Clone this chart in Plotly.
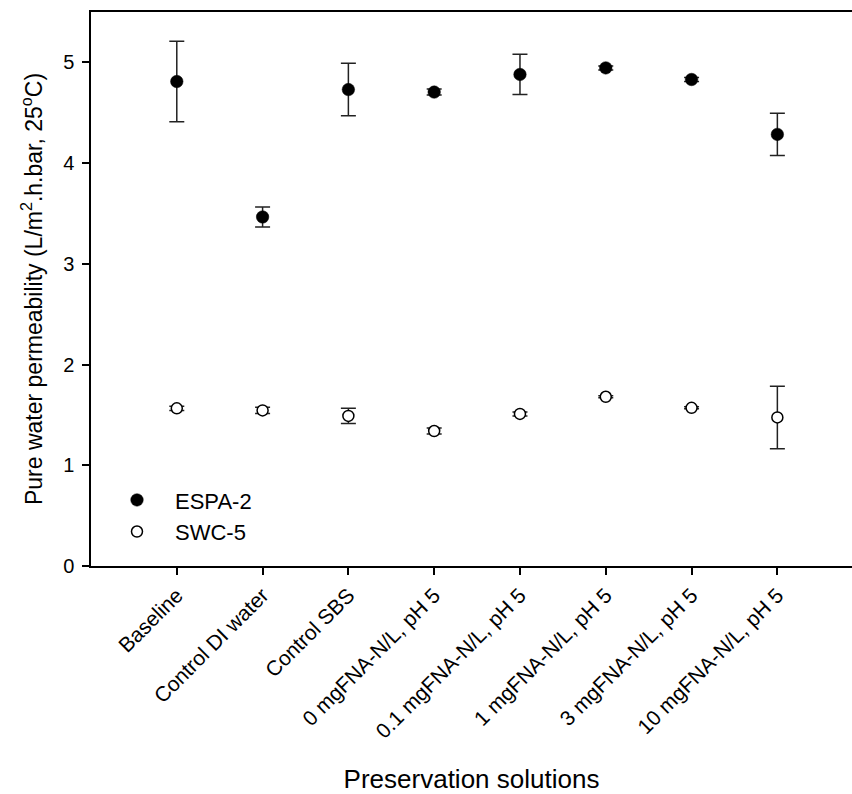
import plotly.graph_objects as go

categories = ["Baseline", "Control DI water", "Control SBS", "0 mgFNA-N/L, pH 5",
              "0.1 mgFNA-N/L, pH 5", "1 mgFNA-N/L, pH 5", "3 mgFNA-N/L, pH 5",
              "10 mgFNA-N/L, pH 5"]
espa_mean = [4.81, 3.465, 4.73, 4.705, 4.88, 4.945, 4.83, 4.285]
espa_err = [0.40, 0.10, 0.26, 0.03, 0.20, 0.02, 0.02, 0.21]
swc_mean = [1.565, 1.545, 1.49, 1.34, 1.51, 1.68, 1.57, 1.475]
swc_err = [0.02, 0.03, 0.075, 0.03, 0.02, 0.01, 0.01, 0.31]

FONT = "Liberation Sans, Arial, sans-serif"

fig = go.Figure()
fig.add_trace(go.Scatter(
    x=categories, y=espa_mean, mode="markers", name="ESPA-2",
    marker=dict(symbol="circle", size=12.5, color="black", line=dict(color="black", width=0.5)),
    error_y=dict(type="data", array=espa_err, visible=True, color="#222222", thickness=1.5, width=7.5),
))
fig.add_trace(go.Scatter(
    x=categories, y=swc_mean, mode="markers", name="SWC-5",
    marker=dict(symbol="circle", size=11, color="white", line=dict(color="black", width=1.5)),
    error_y=dict(type="data", array=swc_err, visible=True, color="#222222", thickness=1.5, width=7.5),
))

fig.update_layout(
    width=852, height=794,
    margin=dict(l=91, r=0, t=12, b=228, autoexpand=False),
    paper_bgcolor="white", plot_bgcolor="white",
    font=dict(family=FONT, size=21, color="black"),
    showlegend=True,
    legend=dict(x=0.0105, y=0.09, xanchor="left", yanchor="middle",
                bgcolor="rgba(0,0,0,0)", font=dict(size=22), itemwidth=66,
                tracegroupgap=0),
    xaxis=dict(
        type="category", categoryorder="array", categoryarray=categories,
        range=[-1.0, 7.87], showline=True, linecolor="black", linewidth=1.5,
        mirror=True, ticks="outside", ticklen=7, tickwidth=1.5, tickcolor="black",
        tickangle=-45, tickfont=dict(size=21), showgrid=False, zeroline=False,
        title=dict(text="Preservation solutions", font=dict(size=26), standoff=30),
        automargin=False,
    ),
    yaxis=dict(
        range=[0, 5.5], tickmode="array", tickvals=[0, 1, 2, 3, 4, 5],
        showline=True, linecolor="black", linewidth=1.5,
        ticks="outside", ticklen=7, tickwidth=1.5, tickcolor="black",
        tickfont=dict(size=20), ticklabelstandoff=4, showgrid=False, zeroline=False,
        title=dict(text="Pure water permeability (L/m<sup>2</sup>.h.bar, 25<sup>o</sup>C)",
                   font=dict(size=23), standoff=14),
        automargin=False,
    ),
)

fig.write_html("out.html")
